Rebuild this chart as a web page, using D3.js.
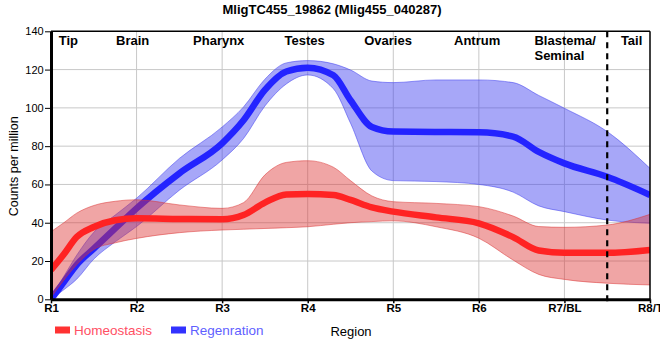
<!DOCTYPE html>
<html>
<head>
<meta charset="utf-8">
<script src="https://cdn.jsdelivr.net/npm/d3@7"></script>
<style>
  html, body { margin: 0; padding: 0; background: #fff; }
  svg { display: block; }
  text { font-family: "Liberation Sans", Arial, sans-serif; }
</style>
</head>
<body>
<svg id="chart" width="660" height="360"></svg>
<script>
// ---- Data ----
const chartTitle = "MligTC455_19862 (Mlig455_040287)";
const regionLabels = ["R1", "R2", "R3", "R4", "R5", "R6", "R7/BL", "R8/T"];
const tissueNames = ["Tip", "Brain", "Pharynx", "Testes", "Ovaries", "Antrum", "Blastema/\nSeminal", "Tail"];
const yTicks = [0, 20, 40, 60, 80, 100, 120, 140];
const seriesNames = ["Homeostasis", "Regenration"];

// sample positions along the region axis (1 = R1 ... 8 = R8/T)
const positions = [1, 1.15, 1.3, 1.5, 1.75, 2, 2.5, 3, 3.25, 3.5, 3.75, 4, 4.3, 4.5, 4.75, 5, 5.5, 6, 6.4, 6.7, 7, 7.5, 8];

const homeoMean  = [15.3, 23.5, 32.5, 37.8, 41.3, 42.3, 42.0, 41.8, 44.0, 50.5, 54.8, 55.0, 54.5, 51.9, 48.0, 45.8, 42.8, 39.7, 32.5, 25.5, 24.3, 24.3, 25.8];
const homeoUpper = [35.3, 40.0, 45.0, 49.0, 51.2, 52.0, 49.3, 47.5, 50.5, 65.0, 71.5, 72.4, 69.0, 62.0, 54.0, 51.0, 50.1, 48.4, 43.5, 38.0, 37.6, 38.8, 44.4];
const homeoLower = [1.0, 10.0, 18.0, 26.0, 29.5, 31.8, 34.8, 36.2, 36.6, 37.0, 37.4, 37.9, 39.2, 40.0, 40.6, 41.0, 37.9, 31.9, 20.5, 13.0, 10.4, 8.4, 7.5];

const regenMean  = [0.0, 9.0, 18.0, 26.5, 37.0, 47.5, 65.8, 81.5, 93.5, 109.4, 119.0, 121.0, 117.0, 104.0, 90.0, 87.6, 87.4, 87.2, 85.0, 77.0, 71.0, 64.0, 54.5];
const regenUpper = [1.0, 12.0, 23.0, 35.0, 44.0, 52.8, 73.6, 90.0, 100.5, 115.0, 123.5, 124.7, 123.0, 119.8, 114.0, 113.2, 114.6, 114.6, 113.2, 106.5, 99.8, 87.6, 68.4];
const regenLower = [0.0, 5.0, 10.5, 21.0, 30.0, 38.0, 57.0, 72.8, 84.0, 101.0, 112.5, 117.2, 110.0, 92.0, 67.0, 62.0, 61.5, 60.0, 56.0, 48.8, 45.8, 41.4, 39.7];

// ---- Layout ----
const W = 660, H = 360;
const plot = { left: 51, right: 650, top: 31.3, bottom: 299.3 };
const tissueAnchors = [1.09, 1.76, 2.66, 3.73, 4.66, 5.71, 6.65, 7.66]; // left edge of each label, region units
const dividerAt = 7.5;

const svg = d3.select("#chart");
const x = d3.scaleLinear().domain([1, 8]).range([plot.left, plot.right]);
const y = d3.scaleLinear().domain([0, 140]).range([plot.bottom, plot.top]);

svg.append("rect").attr("width", W).attr("height", H).attr("fill", "#fff");

svg.append("defs").append("clipPath").attr("id", "plotClip")
  .append("rect")
  .attr("x", plot.left).attr("y", plot.top)
  .attr("width", plot.right - plot.left).attr("height", plot.bottom - plot.top);

// grid
const grid = svg.append("g");
grid.selectAll("line.h").data(yTicks.filter(t => t > 0 && t < 140)).enter()
  .append("line")
  .attr("x1", plot.left).attr("x2", plot.right)
  .attr("y1", d => y(d)).attr("y2", d => y(d))
  .attr("stroke", "#c8c8c8").attr("stroke-width", 1);
grid.selectAll("line.v").data(d3.range(2, 8)).enter()
  .append("line")
  .attr("y1", plot.top).attr("y2", plot.bottom)
  .attr("x1", d => x(d)).attr("x2", d => x(d))
  .attr("stroke", "#c8c8c8").attr("stroke-width", 1);

function rows(mean, lo, hi) {
  return positions.map((p, i) => ({ p, m: mean[i], lo: lo[i], hi: hi[i] }));
}
const series = [
  { name: seriesNames[1], data: rows(regenMean, regenLower, regenUpper),
    band: "rgb(60,60,240)", bandOp: 0.45, line: "rgb(35,35,255)" },
  { name: seriesNames[0], data: rows(homeoMean, homeoLower, homeoUpper),
    band: "rgb(220,50,50)", bandOp: 0.44, line: "rgb(255,35,35)" }
];

const curve = d3.curveMonotoneX;
const area = d3.area().x(d => x(d.p)).y0(d => y(d.lo)).y1(d => y(d.hi)).curve(curve);
const upper = d3.line().x(d => x(d.p)).y(d => y(d.hi)).curve(curve);
const lower = d3.line().x(d => x(d.p)).y(d => y(d.lo)).curve(curve);
const mid = d3.line().x(d => x(d.p)).y(d => y(d.m)).curve(curve);

const marks = svg.append("g").attr("clip-path", "url(#plotClip)");
series.forEach(s => {
  marks.append("path").attr("d", area(s.data)).attr("fill", s.band).attr("fill-opacity", s.bandOp);
  marks.append("path").attr("d", upper(s.data)).attr("fill", "none").attr("stroke", s.band).attr("stroke-opacity", 0.5).attr("stroke-width", 1);
  marks.append("path").attr("d", lower(s.data)).attr("fill", "none").attr("stroke", s.band).attr("stroke-opacity", 0.5).attr("stroke-width", 1);
  marks.append("path").attr("d", mid(s.data)).attr("fill", "none").attr("stroke", s.line).attr("stroke-width", 6.5);
});

// divider
svg.append("line")
  .attr("x1", x(dividerAt)).attr("x2", x(dividerAt))
  .attr("y1", plot.top).attr("y2", plot.bottom + 4)
  .attr("stroke", "#000").attr("stroke-width", 2.2).attr("stroke-dasharray", "6,5");

// frame (top and right)
svg.append("line").attr("x1", plot.left).attr("x2", plot.right).attr("y1", plot.top).attr("y2", plot.top)
  .attr("stroke", "#000").attr("stroke-width", 1.5);
svg.append("line").attr("x1", plot.right).attr("x2", plot.right).attr("y1", plot.top).attr("y2", plot.bottom)
  .attr("stroke", "#000").attr("stroke-width", 1.5);

// y axis
const yAxis = svg.append("g").attr("transform", `translate(${plot.left},0)`)
  .call(d3.axisLeft(y).tickValues(yTicks).tickSize(6).tickSizeOuter(0).tickFormat(d3.format("d")));
yAxis.select(".domain").attr("stroke", "#000").attr("stroke-width", 3);
yAxis.selectAll(".tick line").attr("stroke", "#000").attr("stroke-width", 1);
yAxis.selectAll(".tick text").attr("font-size", 11).attr("fill", "#000")
  .attr("font-family", "'Liberation Sans', Arial, sans-serif").attr("dx", "0.15em");

// x axis
const xAxis = svg.append("g").attr("transform", `translate(0,${plot.bottom})`)
  .call(d3.axisBottom(x).tickValues(d3.range(1, 9)).tickSize(4).tickSizeOuter(0)
    .tickFormat(d => regionLabels[d - 1]));
xAxis.select(".domain").attr("stroke", "#000").attr("stroke-width", 3);
xAxis.selectAll(".tick line").attr("stroke", "#000").attr("stroke-width", 1.5);
xAxis.selectAll(".tick text").attr("font-size", 11.5).attr("font-weight", "bold").attr("fill", "#000")
  .attr("font-family", "'Liberation Sans', Arial, sans-serif").attr("dy", "0.5em");

// tissue labels
const tl = svg.append("g");
tissueNames.forEach((name, i) => {
  const t = tl.append("text")
    .attr("x", x(tissueAnchors[i])).attr("y", 45)
    .attr("font-size", 13).attr("font-weight", "bold").attr("fill", "#000");
  name.split("\n").forEach((ln, j) => {
    t.append("tspan").attr("x", x(tissueAnchors[i])).attr("dy", j === 0 ? 0 : 15).text(ln);
  });
});

// title
svg.append("text").attr("x", 332).attr("y", 14).attr("text-anchor", "middle")
  .attr("font-size", 13).attr("font-weight", "bold")
  .text(chartTitle);

// y label
svg.append("text").attr("transform", `translate(18,${(plot.top + plot.bottom) / 2 + 1}) rotate(-90)`)
  .attr("text-anchor", "middle").attr("font-size", 12.5).attr("fill", "#000")
  .text("Counts per million");

// x label
svg.append("text").attr("x", 351).attr("y", 336).attr("text-anchor", "middle")
  .attr("font-size", 13).attr("fill", "#000")
  .text("Region");

// legend
const legendItems = [
  { name: seriesNames[0], rect: "rgb(255,50,50)", text: "rgb(255,80,100)", x: 55 },
  { name: seriesNames[1], rect: "rgb(50,50,255)", text: "rgb(95,95,255)", x: 171 }
];
legendItems.forEach(it => {
  svg.append("rect").attr("x", it.x).attr("y", 326.5).attr("width", 15).attr("height", 7).attr("fill", it.rect);
  svg.append("text").attr("x", it.x + 19).attr("y", 335).attr("font-size", 13.5)
    .attr("fill", it.text).text(it.name);
});
</script>
</body>
</html>
